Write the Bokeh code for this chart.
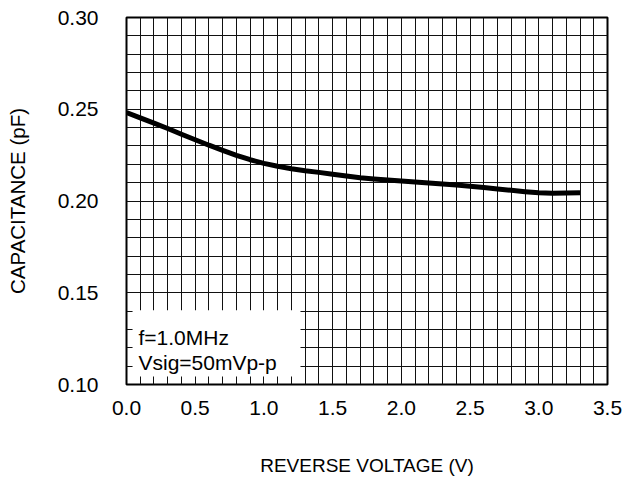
import numpy as np
from bokeh.plotting import figure
from bokeh.models import FixedTicker, BoxAnnotation, Label
from bokeh.embed import file_html
from bokeh.resources import INLINE

# ---- data ----
voltage = [0.0, 0.1, 0.2, 0.3, 0.4, 0.5, 0.6, 0.7, 0.8, 0.9,
           1.0, 1.1, 1.2, 1.3, 1.4, 1.5, 1.6, 1.7, 1.8, 1.9,
           2.0, 2.1, 2.2, 2.3, 2.4, 2.5, 2.6, 2.7, 2.8, 2.9,
           3.0, 3.1, 3.2, 3.3]
capacitance = [0.2482, 0.2453, 0.2424, 0.2395, 0.2364, 0.2334, 0.2304, 0.2276, 0.2249, 0.2225,
               0.2205, 0.2189, 0.2176, 0.2165, 0.2156, 0.2146, 0.2136, 0.2127, 0.2120, 0.2114,
               0.2109, 0.2104, 0.2098, 0.2093, 0.2087, 0.2080, 0.2073, 0.2066, 0.2058, 0.2051,
               0.2045, 0.2042, 0.2043, 0.2045]

x_ticks = [0.0, 0.5, 1.0, 1.5, 2.0, 2.5, 3.0, 3.5]
x_tick_labels = ["0.0", "0.5", "1.0", "1.5", "2.0", "2.5", "3.0", "3.5"]
y_ticks = [0.10, 0.15, 0.20, 0.25, 0.30]
y_tick_labels = ["0.10", "0.15", "0.20", "0.25", "0.30"]
note_lines = ["f=1.0MHz", "Vsig=50mVp-p"]

x_title = "REVERSE VOLTAGE (V)"
y_title = "CAPACITANCE (pF)"

FONT = "Liberation Sans"

p = figure(width=627, height=478, output_backend="svg", toolbar_location=None,
           x_range=(0.0, 3.5), y_range=(0.10, 0.30),
           min_border_left=126, min_border_right=20, min_border_top=17, min_border_bottom=93)
p.background_fill_color = "white"
p.border_fill_color = "white"
p.outline_line_color = "black"
p.outline_line_width = 2

# grid
p.xgrid.ticker = FixedTicker(ticks=list(np.round(np.arange(0.0, 3.5001, 0.1), 2)))
p.ygrid.ticker = FixedTicker(ticks=list(np.round(np.arange(0.10, 0.30001, 0.01), 3)))
for g in (p.xgrid, p.ygrid):
    g.grid_line_color = "#111111"
    g.grid_line_width = 1
    g.grid_line_alpha = 1.0

# axes
p.xaxis.ticker = FixedTicker(ticks=x_ticks)
p.yaxis.ticker = FixedTicker(ticks=y_ticks)
p.xaxis.major_label_overrides = {t: l for t, l in zip(x_ticks, x_tick_labels)}
p.yaxis.major_label_overrides = {t: l for t, l in zip(y_ticks, y_tick_labels)}
for ax in (p.xaxis[0], p.yaxis[0]):
    ax.axis_line_color = None
    ax.major_tick_line_color = None
    ax.minor_tick_line_color = None
    ax.major_tick_out = 0
    ax.major_tick_in = 0
    ax.minor_tick_out = 0
    ax.major_label_text_font = FONT
    ax.major_label_text_font_size = "21px"
    ax.major_label_text_color = "black"
    ax.axis_label_text_font = FONT
    ax.axis_label_text_font_style = "normal"
    ax.axis_label_text_color = "black"

p.xaxis.axis_label = x_title
p.yaxis.axis_label = y_title
p.xaxis.axis_label_text_font_size = "19px"
p.yaxis.axis_label_text_font_size = "20.5px"
p.xaxis.major_label_standoff = 16
p.yaxis.major_label_standoff = 28
p.xaxis.axis_label_standoff = 37
p.yaxis.axis_label_standoff = 26

# curve
p.line(voltage, capacitance, line_color="black", line_width=5, line_join="round", line_cap="butt")

# condition note box
box_left, box_right, box_bottom, box_top = 0.044, 1.266, 0.1043, 0.1405
p.add_layout(BoxAnnotation(left=box_left, right=box_right, bottom=box_bottom, top=box_top,
                           fill_color="white", fill_alpha=1.0, line_alpha=0.0, level="overlay"))
note_x = 0.087
note_ys = [0.1255, 0.1120]
for txt, yy in zip(note_lines, note_ys):
    p.add_layout(Label(x=note_x, y=yy, text=txt, text_font=FONT, text_font_size="21px",
                       text_color="black", text_baseline="alphabetic", level="overlay"))

open("out.html", "w").write(file_html(p, INLINE))
